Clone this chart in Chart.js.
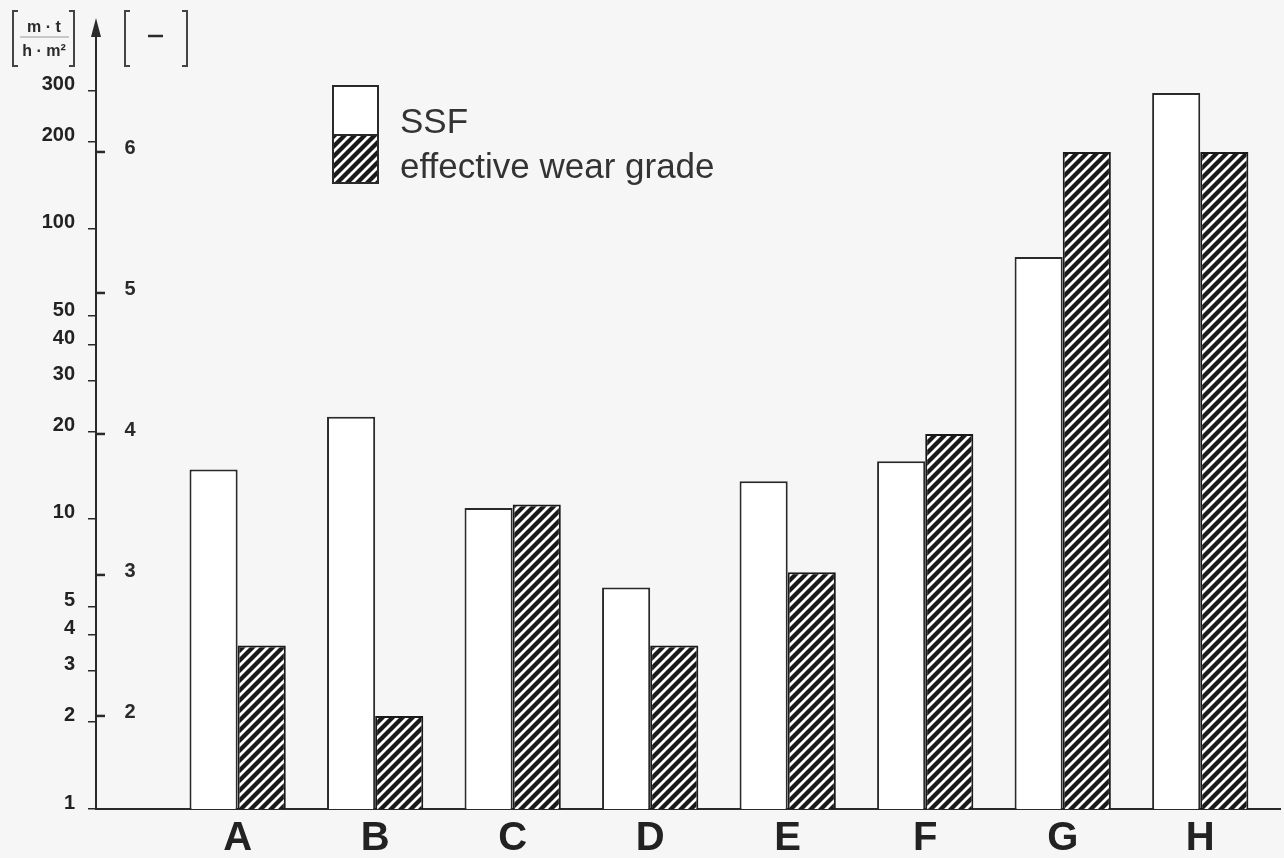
<!DOCTYPE html>
<html>
<head>
<meta charset="utf-8">
<script src="https://cdn.jsdelivr.net/npm/chart.js@4.4.1/dist/chart.umd.min.js"></script>
<style>
    html, body { margin: 0; padding: 0; background: #f6f6f6; }
    #wrap { width: 1284px; height: 858px; }
</style>
</head>
<body>
<div id="wrap"><canvas id="wear-chart" width="1284" height="858"></canvas></div>
<script>
/* SSF und effektiver Verschleissgrad, Anlagen A bis H */

const CATS = ['A', 'B', 'C', 'D', 'E', 'F', 'G', 'H'];
const SSF = [14.8, 22.5, 10.9, 5.8, 13.5, 15.8, 80, 294];
const WEAR_GRADE = [2.5, 2.0, 3.5, 2.5, 3.02, 4.0, 6.0, 6.0];
const Y_TICKS = [1, 2, 3, 4, 5, 10, 20, 30, 40, 50, 100, 200, 300];
const GRADE_TICKS = [2, 3, 4, 5, 6];

const INK = '#2a2a2a';
const FONT = '"Liberation Sans", Arial, Helvetica, sans-serif';

function makeHatch() {
    const c = document.createElement('canvas');
    c.width = 10;
    c.height = 10;
    const g = c.getContext('2d');
    g.fillStyle = '#ffffff';
    g.fillRect(0, 0, 10, 10);
    g.strokeStyle = '#1a1a1a';
    g.lineWidth = 4.3;
    g.beginPath();
    g.moveTo(-5, 5); g.lineTo(5, -5);
    g.moveTo(0, 10); g.lineTo(10, 0);
    g.moveTo(5, 15); g.lineTo(15, 5);
    g.stroke();
    return g.createPattern(c, 'repeat');
}
const hatch = makeHatch();

function bracket(ctx, x, y0, y1, dir) {
    // dir = 1: linke Klammer, -1: rechte Klammer
    ctx.beginPath();
    ctx.moveTo(x + 5 * dir, y0);
    ctx.lineTo(x, y0);
    ctx.lineTo(x, y1);
    ctx.lineTo(x + 5 * dir, y1);
    ctx.stroke();
}

const backgroundPlugin = {
    id: 'background',
    beforeDraw(chart) {
        const ctx = chart.ctx;
        ctx.save();
        ctx.fillStyle = '#f6f6f6';
        ctx.fillRect(0, 0, chart.width, chart.height);
        ctx.restore();
    }
};

const extrasPlugin = {
    id: 'extras',
    afterDraw(chart) {
        const ctx = chart.ctx;
        const y2 = chart.scales.y2;
        const ax = chart.chartArea.left;
        ctx.save();

        // Pfeilspitze der y-Achse
        ctx.fillStyle = INK;
        ctx.beginPath();
        ctx.moveTo(ax, 18);
        ctx.lineTo(ax - 5, 37);
        ctx.lineTo(ax + 5, 37);
        ctx.closePath();
        ctx.fill();

        // zweite Skala (Verschleissgrad)
        ctx.strokeStyle = INK;
        ctx.lineWidth = 2.5;
        ctx.font = 'bold 20px ' + FONT;
        ctx.textAlign = 'center';
        ctx.textBaseline = 'middle';
        GRADE_TICKS.forEach(g => {
            const py = y2.getPixelForValue(g);
            ctx.beginPath();
            ctx.moveTo(ax, py);
            ctx.lineTo(ax + 9, py);
            ctx.stroke();
            ctx.fillText(String(g), 130, py - 3);
        });

        // Einheiten oben links
        ctx.lineWidth = 2;
        ctx.strokeStyle = '#444';
        bracket(ctx, 13, 11, 66, 1);
        bracket(ctx, 74, 11, 66, -1);
        bracket(ctx, 125, 11, 66, 1);
        bracket(ctx, 187, 11, 66, -1);
        ctx.lineWidth = 1;
        ctx.strokeStyle = '#999';
        ctx.beginPath();
        ctx.moveTo(20, 37);
        ctx.lineTo(69, 37);
        ctx.stroke();
        ctx.font = 'bold 16px ' + FONT;
        ctx.fillText('m \u00b7 t', 44, 28);
        ctx.fillText('h \u00b7 m\u00b2', 44, 52);
        ctx.lineWidth = 2.5;
        ctx.strokeStyle = INK;
        ctx.beginPath();
        ctx.moveTo(148, 36);
        ctx.lineTo(163, 36);
        ctx.stroke();

        // Legende
        ctx.fillStyle = '#ffffff';
        ctx.fillRect(333, 86, 45, 49);
        ctx.fillStyle = hatch;
        ctx.fillRect(333, 135, 45, 48);
        ctx.lineWidth = 2;
        ctx.strokeStyle = INK;
        ctx.strokeRect(333, 86, 45, 97);
        ctx.beginPath();
        ctx.moveTo(333, 135);
        ctx.lineTo(378, 135);
        ctx.stroke();
        ctx.fillStyle = '#333';
        ctx.font = '35px ' + FONT;
        ctx.textAlign = 'left';
        ctx.textBaseline = 'alphabetic';
        ctx.fillText('SSF', 400, 133);
        ctx.fillText('effective wear grade', 400, 178);

        ctx.restore();
    }
};

const ctx = document.getElementById('wear-chart').getContext('2d');
new Chart(ctx, {
    type: 'bar',
    data: {
        datasets: [{
            label: 'SSF',
            data: SSF.map((v, i) => ({ x: i, y: v })),
            yAxisID: 'y',
            backgroundColor: '#ffffff',
            borderColor: INK,
            borderWidth: 2,
        }, {
            label: 'effective wear grade',
            data: WEAR_GRADE.map((v, i) => ({ x: i, y: v })),
            yAxisID: 'y2',
            backgroundColor: hatch,
            borderColor: '#1a1a1a',
            borderWidth: 2,
        }]
    },
    options: {
        responsive: false,
        animation: false,
        layout: { padding: { left: 0, right: 4, top: 30, bottom: 0 } },
        datasets: { bar: { categoryPercentage: 0.7, barPercentage: 1.0 } },
        scales: {
            x: {
                type: 'linear',
                offset: false,
                min: -1.03,
                max: 7.58,
                grid: { display: false, drawTicks: false, offset: false },
                border: { display: true, color: INK, width: 2 },
                afterBuildTicks: s => { s.ticks = CATS.map((_, i) => ({ value: i })); },
                afterFit: s => { s.height = 49; },
                ticks: {
                    autoSkip: false,
                    maxRotation: 0,
                    padding: 6,
                    color: '#222',
                    font: { family: FONT, size: 40, weight: 'bold' },
                    callback: v => CATS[v] || ''
                }
            },
            y: {
                type: 'logarithmic',
                position: 'left',
                min: 1,
                max: 485,
                grid: { drawOnChartArea: false, drawTicks: true, tickLength: 8, color: INK, lineWidth: 1.5 },
                border: { display: true, color: INK, width: 2 },
                afterBuildTicks: s => { s.ticks = Y_TICKS.map(v => ({ value: v })); },
                afterFit: s => { s.width = 96; },
                ticks: {
                    autoSkip: false,
                    padding: 13,
                    labelOffset: -6,
                    color: '#222',
                    font: { family: FONT, size: 20, weight: 'bold' },
                    callback: v => String(v)
                }
            },
            y2: {
                type: 'linear',
                display: false,
                min: 1.34,
                max: 6.865
            }
        },
        plugins: {
            legend: { display: false },
            tooltip: { enabled: false }
        }
    },
    plugins: [backgroundPlugin, extrasPlugin]
});
</script>
</body>
</html>
